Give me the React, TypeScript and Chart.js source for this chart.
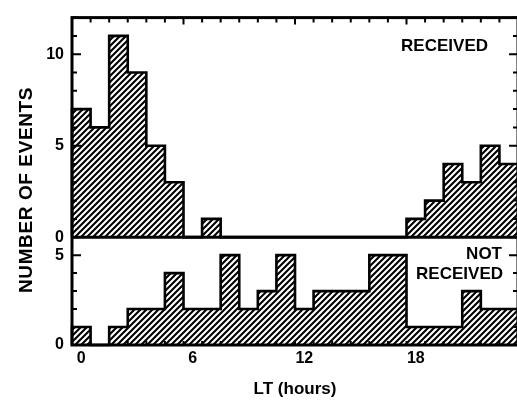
import React, { useEffect, useRef } from 'react';
import { Chart, registerables } from 'chart.js';

Chart.register(...registerables);

// Hour bins (bin centre, in hours LT)
const binHours = [0, 1, 2, 3, 4, 5, 6, 7, 8, 9, 10, 11, 12, 13, 14, 15, 16, 17, 18, 19, 20, 21, 22, 23];
// Number of events per hour bin
const received = [7, 6, 11, 9, 5, 3, 0, 1, 0, 0, 0, 0, 0, 0, 0, 0, 0, 0, 1, 2, 4, 3, 5, 4];
const notReceived = [1, 0, 1, 2, 2, 4, 2, 2, 5, 2, 3, 5, 2, 3, 3, 3, 5, 5, 1, 1, 1, 3, 2, 2];
// Axis ticks
const xTickLabels = [0, 6, 12, 18];
const topPanelMax = 12;
const bottomPanelMax = 6;
const yLabelEvery = 5;

const FONT = '"Liberation Sans", Arial, Helvetica, sans-serif';

function makeHatch(): CanvasPattern | string {
  const s = 6;
  const c = document.createElement('canvas');
  c.width = s;
  c.height = s;
  const g = c.getContext('2d');
  if (!g) return '#888';
  g.fillStyle = '#fff';
  g.fillRect(0, 0, s, s);
  g.strokeStyle = '#000';
  g.lineWidth = 2.1;
  g.beginPath();
  g.moveTo(-1, s + 1);
  g.lineTo(s + 1, -1);
  g.moveTo(-2, 2);
  g.lineTo(2, -2);
  g.moveTo(s - 2, s + 2);
  g.lineTo(s + 2, s - 2);
  g.stroke();
  return g.createPattern(c, 'repeat') || '#888';
}

function barData(vals: number[]) {
  return vals.map((v, i) => ({ x: binHours[i], y: v }));
}

function outlineData(vals: number[]) {
  const n = vals.length;
  const pts: { x: number; y: number }[] = [{ x: binHours[0] - 0.5, y: 0 }];
  vals.forEach((v, i) => pts.push({ x: binHours[i] - 0.5, y: v }));
  pts.push({ x: binHours[n - 1] + 0.5, y: vals[n - 1] });
  pts.push({ x: binHours[n - 1] + 0.5, y: 0 });
  return pts;
}

const framePlugin = {
  id: 'frame',
  afterDatasetsDraw(chart: any) {
    const { ctx, chartArea: a, scales } = chart;
    const x = scales.x;
    const yTop = scales.yTop;
    const yBot = scales.yBot;
    ctx.save();
    ctx.strokeStyle = '#000';
    ctx.fillStyle = '#000';
    ctx.lineCap = 'butt';

    // tick marks (inward)
    ctx.lineWidth = 2;
    ctx.beginPath();
    const yTicks = (scale: any, max: number) => {
      for (let v = 0; v <= max; v++) {
        const py = scale.getPixelForValue(v);
        const len = v % yLabelEvery === 0 ? 9 : 5;
        ctx.moveTo(a.left, py);
        ctx.lineTo(a.left + len, py);
        ctx.moveTo(a.right, py);
        ctx.lineTo(a.right - len, py);
      }
    };
    yTicks(yTop, topPanelMax);
    yTicks(yBot, bottomPanelMax);
    for (let i = 0; i <= binHours.length; i++) {
      const edge = i < binHours.length ? binHours[i] - 0.5 : binHours[i - 1] + 0.5;
      const px = x.getPixelForValue(edge);
      const len = i % 6 === 0 ? 7 : 5;
      ctx.moveTo(px, a.top);
      ctx.lineTo(px, a.top + len);
      ctx.moveTo(px, a.bottom);
      ctx.lineTo(px, a.bottom - 4);
    }
    ctx.stroke();

    // frame and panel separator
    ctx.lineWidth = 3;
    ctx.strokeRect(a.left, a.top, a.right - a.left, a.bottom - a.top);
    const sep = yTop.getPixelForValue(0);
    ctx.beginPath();
    ctx.moveTo(a.left, sep);
    ctx.lineTo(a.right, sep);
    ctx.stroke();

    // annotations
    ctx.textAlign = 'right';
    ctx.textBaseline = 'alphabetic';
    ctx.font = `bold 17px ${FONT}`;
    ctx.fillText('RECEIVED', a.right - 30, 51);
    ctx.fillText('NOT', a.right - 16, 259);
    ctx.fillText('RECEIVED', a.right - 15, 279);

    // y title
    ctx.save();
    ctx.translate(32, 190);
    ctx.rotate(-Math.PI / 2);
    ctx.textAlign = 'center';
    ctx.font = `bold 19px ${FONT}`;
    try {
      (ctx as any).letterSpacing = '0.6px';
    } catch (e) {}
    ctx.fillText('NUMBER OF EVENTS', 0, 0);
    ctx.restore();

    ctx.restore();
  },
};

export default function App() {
  const ref = useRef<HTMLCanvasElement | null>(null);

  useEffect(() => {
    const canvas = ref.current;
    if (!canvas) return;
    const hatch = makeHatch();
    const tickFont = { family: FONT, size: 16, weight: 'bold' as const };

    const chart = new Chart(canvas, {
      type: 'bar',
      data: {
        datasets: [
          {
            type: 'line',
            data: outlineData(received),
            yAxisID: 'yTop',
            xAxisID: 'x',
            stepped: true,
            borderColor: '#000',
            borderWidth: 2.6,
            pointRadius: 0,
            fill: false,
            clip: false as any,
            order: 0,
          } as any,
          {
            type: 'line',
            data: outlineData(notReceived),
            yAxisID: 'yBot',
            xAxisID: 'x',
            stepped: true,
            borderColor: '#000',
            borderWidth: 2.6,
            pointRadius: 0,
            fill: false,
            clip: false as any,
            order: 0,
          } as any,
          {
            type: 'bar',
            data: barData(received),
            yAxisID: 'yTop',
            xAxisID: 'x',
            backgroundColor: hatch as any,
            borderWidth: 0,
            barPercentage: 1,
            categoryPercentage: 1,
            grouped: false,
            order: 1,
          } as any,
          {
            type: 'bar',
            data: barData(notReceived),
            yAxisID: 'yBot',
            xAxisID: 'x',
            backgroundColor: hatch as any,
            borderWidth: 0,
            barPercentage: 1,
            categoryPercentage: 1,
            grouped: false,
            order: 1,
          } as any,
        ],
      },
      options: {
        animation: false,
        responsive: false,
        devicePixelRatio: 1,
        layout: { padding: { left: 0, right: 8, top: 11, bottom: 0 } },
        plugins: {
          legend: { display: false },
          tooltip: { enabled: false },
        },
        scales: {
          x: {
            type: 'linear',
            position: 'bottom',
            min: binHours[0] - 0.5,
            max: binHours[binHours.length - 1] + 0.5,
            offset: false,
            grid: { display: false, drawTicks: false },
            border: { display: false },
            afterBuildTicks: (s: any) => {
              s.ticks = xTickLabels.map((v) => ({ value: v }));
            },
            ticks: {
              autoSkip: false,
              maxRotation: 0,
              padding: 4,
              color: '#000',
              font: tickFont,
              callback: (v: any) => String(v),
            },
            title: {
              display: true,
              text: 'LT (hours)',
              color: '#000',
              font: { family: FONT, size: 17, weight: 'bold' },
              padding: { top: 0, bottom: 3 },
            },
            afterFit: (s: any) => {
              s.height = 58;
            },
          },
          yBot: {
            type: 'linear',
            position: 'left',
            stack: 'panels',
            stackWeight: 1,
            weight: 0,
            min: 0,
            max: bottomPanelMax,
            grid: { display: false, drawTicks: false },
            border: { display: false },
            ticks: {
              stepSize: 1,
              autoSkip: false,
              padding: 8,
              color: '#000',
              font: tickFont,
              callback: (v: any) => (Number(v) % yLabelEvery === 0 ? String(v) : ''),
            },
            afterFit: (s: any) => {
              s.width = 72;
            },
          },
          yTop: {
            type: 'linear',
            position: 'left',
            stack: 'panels',
            stackWeight: 224 / 110,
            weight: 1,
            min: 0,
            max: topPanelMax,
            grid: { display: false, drawTicks: false },
            border: { display: false },
            ticks: {
              stepSize: 1,
              autoSkip: false,
              padding: 8,
              color: '#000',
              font: tickFont,
              callback: (v: any) => (Number(v) % yLabelEvery === 0 ? String(v) : ''),
            },
            afterFit: (s: any) => {
              s.width = 72;
            },
          },
        } as any,
      },
      plugins: [framePlugin],
    });

    return () => {
      chart.destroy();
    };
  }, []);

  return (
    <div
      style={{
        position: 'fixed',
        left: 0,
        top: 0,
        width: 517,
        height: 403,
        overflow: 'hidden',
        background: '#fff',
      }}
    >
      <canvas ref={ref} width={526} height={403} style={{ display: 'block', width: 526, height: 403 }} />
    </div>
  );
}
